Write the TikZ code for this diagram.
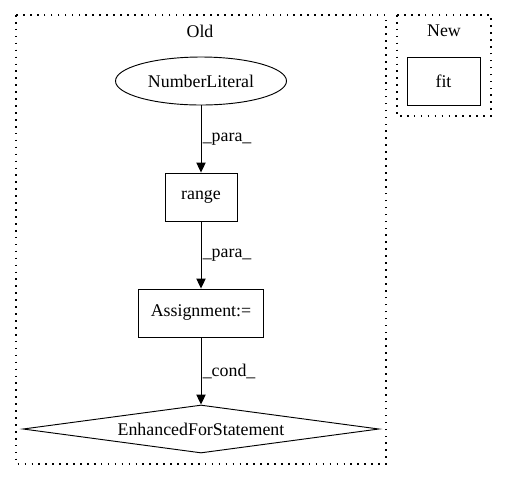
\documentclass[tikz,border=0pt]{standalone}
\usepackage{fontspec}
\setmainfont{Liberation Serif}
\usetikzlibrary{shapes.geometric,arrows.meta}

\tikzset{
  cluster/.style={draw, line width=0.9pt, dash pattern=on 1.2pt off 4pt},
  box/.style={draw, line width=0.7pt, minimum width=#1*0.75pt, minimum height=36pt, inner sep=0pt},
  edge/.style={draw, line width=0.7pt, -{Triangle[length=7.5pt,width=7pt]}},
  elabel/.style={right, inner sep=1pt}
}

\begin{document}
\begin{tikzpicture}[x=0.75pt, y=-0.75pt, font=\fontsize{13.4pt}{15pt}\selectfont]
            % page
            \useasboundingbox (0,0) rectangle (507,480);
            % clusters
            \draw[cluster] (16,15) rectangle (386,464);
            \draw[cluster] (397,15) rectangle (491,116);
            % cluster labels
            \node (oldlabel) at (200,31) {Old};
            \node (newlabel) at (444,31) {New};
            % nodes
            \node[draw, ellipse, line width=0.7pt, minimum width=171*0.75pt, minimum height=48*0.75pt, inner sep=0pt] (numlit) at (201,81) {NumberLiteral};
            \node[box=72] (range) at (201,197) {range};
            \node[box=125] (assign) at (201,313) {Assignment:=};
            \node[draw, diamond, aspect=7.4, line width=0.7pt, minimum width=356*0.75pt, minimum height=48*0.75pt, inner sep=0pt] (enhfor) at (201,429) {EnhancedForStatement};
            \node[box=73] (fit) at (443.5,81) {fit};
            % edges
            \path[edge] (numlit) -- node[elabel] {\_para\_} (range);
            \path[edge] (range) -- node[elabel] {\_para\_} (assign);
            \path[edge] (assign) -- node[elabel] {\_cond\_} (enhfor);
        \end{tikzpicture}
\end{document}
